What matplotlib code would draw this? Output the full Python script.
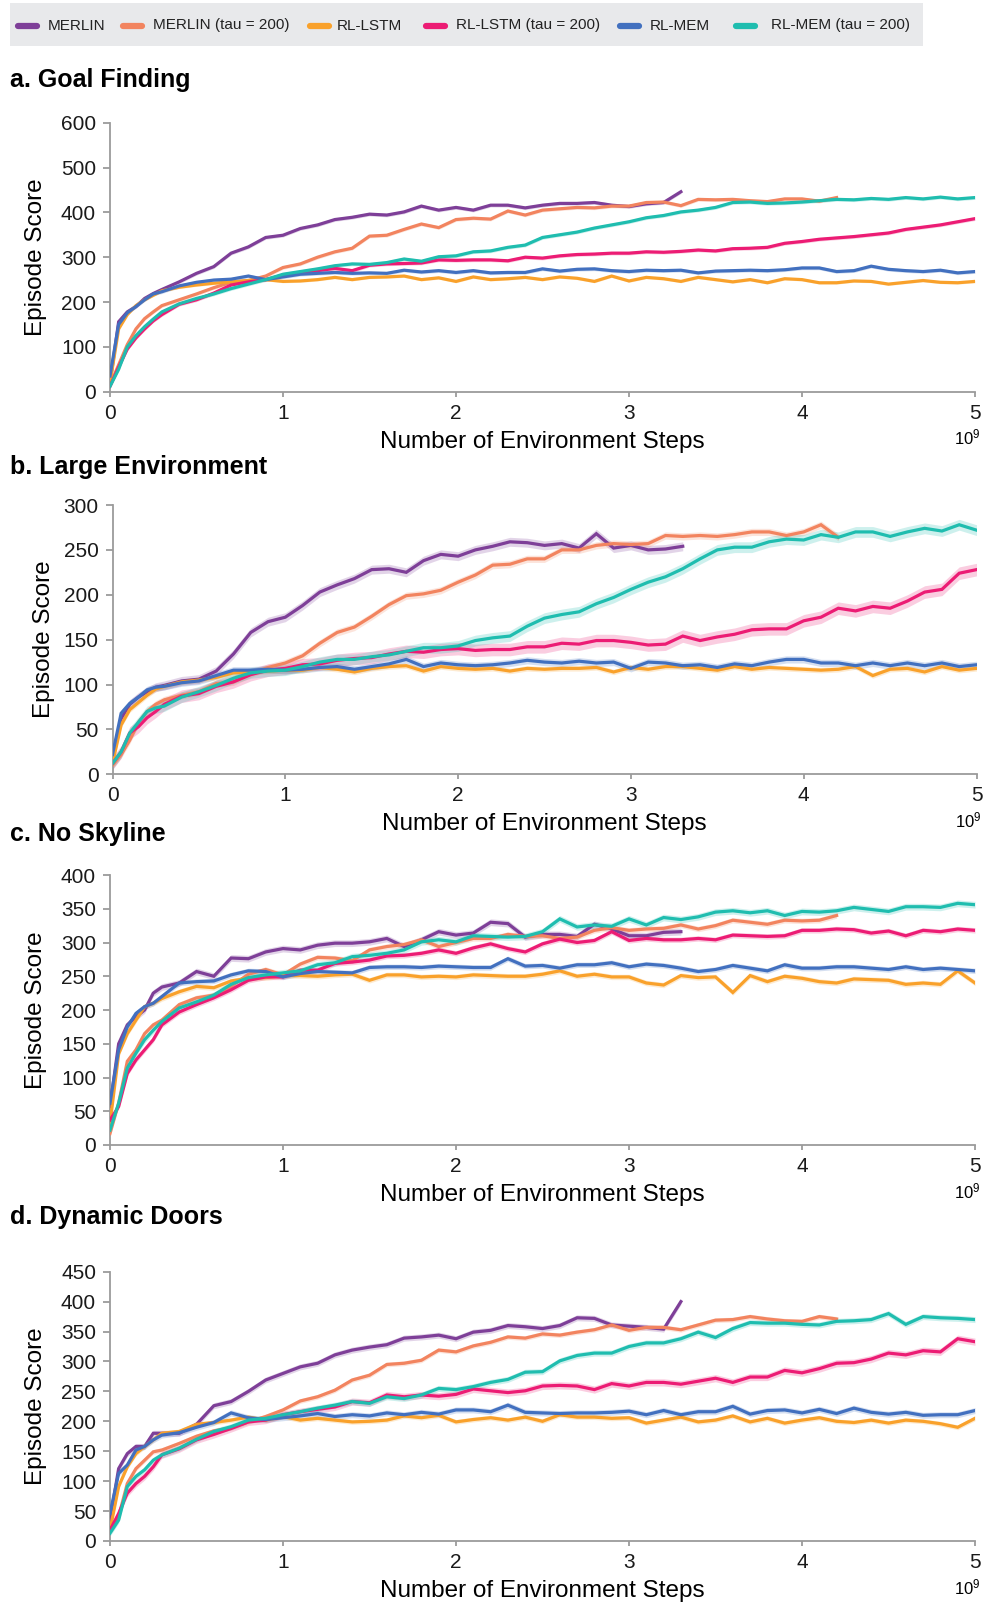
import numpy as np
import matplotlib
matplotlib.use("Agg")
import matplotlib.pyplot as plt
from matplotlib.lines import Line2D
from matplotlib.patches import Rectangle

plt.rcParams["font.family"] = ["Liberation Sans", "DejaVu Sans"]

# sample points along the x axis (x 1e9 environment steps)
steps = [0, 0.05, 0.1, 0.15, 0.2, 0.25] + [round(0.3 + 0.1 * i, 1) for i in range(48)]

labels = ["MERLIN", "MERLIN (tau = 200)", "RL-LSTM", "RL-LSTM (tau = 200)", "RL-MEM", "RL-MEM (tau = 200)"]
colors = ["#7E3F98", "#F2845F", "#F9A12B", "#EC1C74", "#4270BF", "#1FBDAF"]

# ---- a. Goal Finding
merlin_a = [20, 156, 178, 190, 208, 219, 228, 245, 264, 279, 309, 323, 344, 349, 364, 372, 384, 389, 396, 394,
            401, 414, 405, 411, 405, 416, 416, 410, 416, 420, 420, 422, 416, 413, 419, 422, 446]
merlin_tau_a = [15, 60, 105, 140, 163, 178, 192, 205, 218, 232, 244, 248, 258, 277, 285, 300, 312, 320, 347, 349,
                362, 374, 366, 384, 387, 385, 403, 394, 405, 408, 411, 410, 414, 414, 422, 423, 415, 429, 428, 429,
                426, 424, 430, 430, 425, 433]
lstm_a = [20, 140, 172, 192, 205, 215, 225, 233, 238, 242, 245, 248, 250, 246, 247, 250, 255, 250, 255, 256,
          258, 250, 254, 246, 256, 250, 252, 255, 250, 256, 253, 246, 258, 247, 255, 252, 246, 255, 250, 245,
          250, 243, 252, 250, 243, 243, 247, 246, 240, 244, 248, 244, 243, 246]
lstm_tau_a = [12, 55, 95, 120, 140, 158, 172, 195, 205, 220, 238, 245, 250, 260, 266, 270, 275, 270, 282, 285,
              286, 287, 294, 293, 294, 294, 292, 300, 298, 303, 306, 307, 309, 309, 312, 311, 313, 316, 314, 319,
              320, 322, 331, 335, 340, 343, 346, 350, 354, 362, 367, 372, 379, 386]
mem_a = [35, 150, 176, 190, 205, 218, 223, 236, 244, 249, 251, 258, 250, 256, 262, 264, 266, 264, 265, 264,
         271, 267, 270, 266, 270, 265, 266, 266, 274, 269, 273, 274, 270, 268, 271, 270, 271, 265, 269, 270,
         271, 270, 272, 276, 276, 268, 270, 280, 273, 270, 268, 271, 265, 268]
mem_tau_a = [12, 50, 100, 125, 145, 162, 178, 196, 208, 218, 230, 240, 250, 262, 268, 274, 281, 285, 284, 288,
             296, 291, 301, 303, 312, 314, 322, 327, 344, 350, 356, 365, 372, 379, 388, 393, 401, 405, 411, 422,
             423, 420, 421, 423, 426, 429, 428, 431, 429, 433, 430, 434, 430, 433]

# ---- b. Large Environment
merlin_b = [20, 62, 78, 86, 92, 97, 99, 104, 106, 115, 134, 158, 170, 175, 188, 203, 211, 218, 228, 229,
            225, 238, 245, 243, 250, 254, 259, 258, 255, 257, 252, 268, 252, 255, 250, 251, 254]
merlin_tau_b = [10, 22, 38, 58, 70, 78, 83, 88, 92, 101, 103, 112, 119, 124, 132, 146, 158, 164, 176, 189,
                199, 201, 205, 214, 222, 233, 234, 240, 240, 250, 250, 255, 257, 256, 257, 266, 265, 266, 265, 267,
                270, 270, 266, 270, 278, 264]
lstm_b = [12, 55, 72, 80, 88, 95, 98, 103, 105, 108, 113, 114, 115, 116, 116, 119, 117, 114, 118, 120,
          121, 115, 120, 118, 117, 118, 115, 118, 117, 118, 118, 119, 114, 119, 117, 120, 120, 118, 116, 120,
          117, 119, 118, 117, 116, 117, 120, 110, 117, 118, 114, 120, 116, 118]
lstm_tau_b = [12, 25, 46, 53, 63, 70, 78, 87, 90, 98, 103, 111, 116, 118, 122, 123, 127, 129, 130, 134,
              137, 136, 139, 140, 138, 139, 139, 142, 142, 146, 145, 149, 149, 147, 144, 145, 154, 149, 153, 156,
              161, 162, 162, 171, 175, 185, 182, 187, 185, 193, 203, 206, 224, 228]
mem_b = [22, 68, 79, 86, 94, 97, 98, 102, 104, 110, 116, 116, 117, 116, 117, 119, 120, 117, 120, 123,
         128, 120, 124, 122, 121, 122, 124, 127, 125, 124, 126, 124, 125, 118, 125, 124, 121, 122, 119, 123,
         121, 125, 128, 128, 124, 124, 121, 124, 121, 124, 121, 124, 120, 122]
mem_tau_b = [12, 25, 46, 58, 70, 74, 76, 86, 92, 99, 107, 113, 115, 116, 120, 125, 128, 128, 131, 133,
             137, 141, 141, 143, 149, 152, 154, 165, 174, 178, 181, 190, 197, 206, 214, 220, 229, 240, 250, 253,
             253, 259, 262, 261, 267, 264, 270, 270, 265, 270, 274, 271, 278, 272]

# ---- c. No Skyline
merlin_c = [57, 150, 178, 190, 200, 225, 234, 240, 257, 250, 277, 276, 286, 291, 289, 296, 299, 299, 301, 306,
            294, 304, 316, 311, 314, 330, 328, 308, 312, 312, 309, 327, 320, 310, 310, 315, 316]
merlin_tau_c = [17, 62, 124, 141, 165, 178, 185, 208, 218, 222, 235, 253, 260, 252, 268, 278, 277, 273, 289, 294,
                297, 304, 294, 300, 306, 306, 312, 309, 310, 306, 308, 318, 322, 318, 320, 321, 326, 320, 325, 333,
                330, 327, 333, 332, 333, 340]
lstm_c = [32, 135, 165, 185, 205, 210, 217, 227, 235, 233, 243, 247, 248, 251, 251, 250, 252, 253, 244, 252,
          252, 249, 250, 249, 252, 251, 250, 250, 253, 258, 250, 253, 249, 249, 240, 237, 251, 248, 249, 226,
          251, 242, 250, 247, 242, 240, 246, 245, 244, 238, 240, 238, 258, 240]
lstm_tau_c = [37, 57, 106, 126, 141, 156, 178, 197, 208, 218, 230, 244, 249, 249, 259, 259, 269, 271, 274, 280,
              281, 284, 289, 284, 292, 298, 291, 286, 298, 305, 300, 303, 316, 303, 306, 304, 304, 306, 304, 311,
              310, 309, 310, 318, 318, 320, 319, 314, 317, 310, 318, 316, 320, 318]
mem_c = [62, 141, 175, 195, 205, 210, 220, 240, 242, 243, 252, 258, 257, 249, 254, 257, 256, 255, 263, 264,
         264, 263, 265, 264, 263, 263, 276, 265, 266, 262, 267, 267, 270, 264, 268, 266, 262, 257, 260, 266,
         262, 258, 267, 262, 262, 264, 264, 262, 260, 264, 260, 262, 260, 258]
mem_tau_c = [22, 62, 114, 136, 156, 170, 183, 203, 212, 222, 238, 248, 252, 255, 258, 267, 270, 279, 281, 284,
             289, 301, 304, 301, 310, 309, 308, 309, 316, 335, 323, 326, 324, 335, 326, 337, 334, 338, 345, 347,
             344, 347, 340, 346, 345, 347, 352, 349, 346, 353, 353, 352, 358, 356]

# ---- d. Dynamic Doors
merlin_d = [35, 121, 146, 158, 158, 180, 180, 180, 195, 226, 233, 250, 269, 280, 291, 297, 311, 319, 324, 328,
            339, 341, 344, 338, 349, 352, 360, 358, 355, 360, 373, 372, 361, 359, 357, 354, 400]
merlin_tau_d = [18, 41, 96, 121, 135, 149, 152, 163, 175, 184, 189, 199, 208, 219, 234, 241, 252, 269, 277, 295,
                297, 302, 319, 316, 326, 332, 341, 339, 346, 344, 349, 353, 361, 352, 357, 357, 353, 361, 369, 370,
                375, 371, 368, 367, 375, 371]
lstm_d = [18, 91, 124, 146, 158, 169, 180, 183, 195, 198, 202, 207, 202, 208, 202, 205, 202, 199, 200, 202,
          209, 206, 210, 199, 203, 206, 202, 207, 200, 211, 207, 207, 205, 206, 197, 202, 207, 199, 202, 209,
          199, 205, 197, 202, 206, 200, 198, 202, 197, 202, 200, 196, 190, 205]
lstm_tau_d = [18, 46, 80, 96, 108, 124, 144, 154, 169, 178, 188, 199, 202, 211, 216, 220, 224, 233, 231, 244,
              241, 244, 242, 245, 254, 251, 248, 251, 259, 260, 259, 253, 263, 259, 265, 265, 262, 267, 272, 265,
              274, 274, 285, 281, 288, 297, 298, 304, 314, 311, 318, 316, 338, 333]
mem_d = [46, 113, 127, 152, 158, 169, 177, 181, 190, 198, 214, 206, 203, 206, 209, 213, 208, 211, 209, 214,
         211, 215, 212, 219, 219, 216, 227, 215, 214, 213, 214, 214, 215, 217, 211, 218, 211, 216, 216, 225,
         212, 218, 219, 214, 220, 213, 222, 215, 212, 215, 210, 211, 211, 218]
mem_tau_d = [13, 35, 91, 108, 119, 135, 144, 155, 170, 183, 191, 202, 205, 211, 216, 222, 227, 233, 230, 241,
             238, 244, 255, 253, 258, 265, 270, 282, 283, 301, 310, 314, 314, 325, 331, 331, 338, 349, 340, 355,
             365, 364, 364, 362, 361, 367, 368, 370, 380, 362, 375, 373, 372, 370]

# half width of the shaded band around each curve
band_a = [4, 4, 3, 4, 4, 4]
band_b = [5, 4, 3, 7, 4, 6]
band_c = [5, 4, 4, 4, 4, 5]
band_d = [5, 4, 4, 6, 5, 5]

titles = ["a. Goal Finding", "b. Large Environment", "c. No Skyline", "d. Dynamic Doors"]
ymax = [600, 300, 400, 450]
ystep = [100, 50, 50, 50]
series = [
    [merlin_a, merlin_tau_a, lstm_a, lstm_tau_a, mem_a, mem_tau_a],
    [merlin_b, merlin_tau_b, lstm_b, lstm_tau_b, mem_b, mem_tau_b],
    [merlin_c, merlin_tau_c, lstm_c, lstm_tau_c, mem_c, mem_tau_c],
    [merlin_d, merlin_tau_d, lstm_d, lstm_tau_d, mem_d, mem_tau_d],
]
bands = [band_a, band_b, band_c, band_d]

W, H = 988, 1603
# axes box in pixels: left, right, top, bottom
boxes = [(110, 975, 122.7, 391.7), (112.5, 976.5, 505, 774.3), (110, 975, 875, 1145), (110, 975, 1271.7, 1541)]
title_y = [80, 467, 834, 1217]
ylab_x = [-0.073, -0.066, -0.073, -0.073]
axis_grey = "#9b9b9b"

fig = plt.figure(figsize=(W / 100, H / 100), dpi=100)

# legend strip
fig.add_artist(Rectangle((10 / W, 1 - 46 / H), 913 / W, 43 / H, transform=fig.transFigure,
                         facecolor="#E8E9EB", edgecolor="none"))
handle_x = [18, 123, 310, 426, 620, 736]
text_x = [48, 153, 337, 456, 650, 771]
for hx, tx, lab, col in zip(handle_x, text_x, labels, colors):
    fig.add_artist(Line2D([hx / W, (hx + 19) / W], [1 - 25.5 / H, 1 - 25.5 / H], transform=fig.transFigure,
                          color=col, lw=4.5, solid_capstyle="round"))
    fig.text(tx / W, 1 - 25.5 / H, lab, fontsize=11, va="center", ha="left", color="#222222")

for k in range(4):
    l, r, t, b = boxes[k]
    ax = fig.add_axes([l / W, 1 - b / H, (r - l) / W, (b - t) / H])
    for s, ys in enumerate(series[k]):
        x = np.array(steps[:len(ys)])
        y = np.array(ys, dtype=float)
        ax.fill_between(x, y - bands[k][s], y + bands[k][s], color=colors[s], alpha=0.22, lw=0, zorder=2)
        ax.plot(x, y, color=colors[s], lw=2.3, zorder=3, solid_joinstyle="miter")
    ax.set_xlim(0, 5)
    ax.set_ylim(0, ymax[k])
    ax.set_xticks(range(6))
    ax.set_yticks(np.arange(0, ymax[k] + 1, ystep[k]))
    for sp in ["top", "right"]:
        ax.spines[sp].set_visible(False)
    for sp in ["left", "bottom"]:
        ax.spines[sp].set_color(axis_grey)
        ax.spines[sp].set_linewidth(1.3)
    ax.tick_params(axis="both", colors=axis_grey, width=1.3, labelsize=15, labelcolor="#1a1a1a")
    ax.tick_params(axis="x", length=3.6, pad=5)
    ax.tick_params(axis="y", length=5, pad=5)
    ax.set_ylabel("Episode Score", fontsize=17.5)
    ax.yaxis.set_label_coords(ylab_x[k], 0.5)
    ax.text(0.5, -50 / (b - t), "Number of Environment Steps", transform=ax.transAxes,
            ha="center", va="center", fontsize=17.5)
    ax.text(1.006, -46 / (b - t), r"$\mathregular{10^9}$", transform=ax.transAxes,
            ha="right", va="center", fontsize=12)
    fig.text(10 / W, 1 - title_y[k] / H, titles[k], fontsize=18, fontweight="bold", va="center", ha="left")

fig.savefig("out.png", dpi=100)
